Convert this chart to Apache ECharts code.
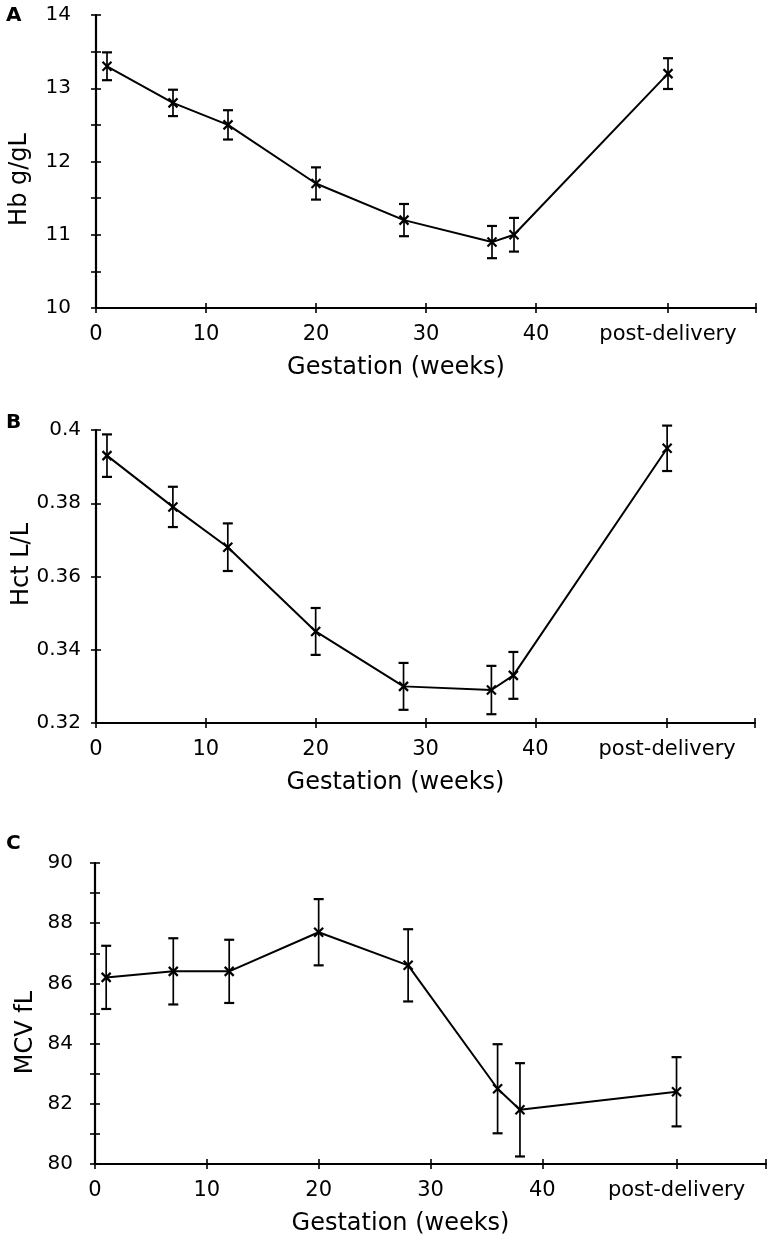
<!DOCTYPE html>
<html>
<head>
<meta charset="utf-8">
<script src="https://cdn.jsdelivr.net/npm/echarts@6/dist/echarts.min.js"></script>
<style>
html,body{margin:0;padding:0;background:#fff;}
#chart{width:771px;height:1251px;}
</style>
</head>
<body>
<div id="chart"></div>
<script>
// ---- data ----
const weeks = [1, 7, 12, 20, 28, 36, 38, 52];
const postDeliveryWeek = 52;
const xTickValues = [0, 10, 20, 30, 40, 52, 60];
const xLabelValues = [0, 10, 20, 30, 40, 52];
const postLabel = 'post-delivery';
const xName = 'Gestation (weeks)';

const hbMean = [13.3, 12.8, 12.5, 11.7, 11.2, 10.9, 11.0, 13.2];
const hbErr  = [0.19, 0.18, 0.2, 0.22, 0.22, 0.22, 0.23, 0.21];
const hctMean = [0.393, 0.379, 0.368, 0.345, 0.330, 0.329, 0.333, 0.395];
const hctErr  = [0.0058, 0.0055, 0.0065, 0.0064, 0.0064, 0.0066, 0.0064, 0.0062];
const mcvMean = [86.2, 86.4, 86.4, 87.7, 86.6, 82.5, 81.8, 82.4];
const mcvErr  = [1.05, 1.1, 1.05, 1.1, 1.2, 1.48, 1.55, 1.15];

const panelLetters = ['A', 'B', 'C'];
const yNames = ['Hb g/gL', 'Hct L/L', 'MCV fL'];

// ---- layout / style ----
const FONT = 'DejaVu Sans';
const INK = '#000';
const panels = [
  {top: 15,  height: 293, left: 96, right: 15, yMin: 10, yMax: 14, yInt: 0.5,
   mean: hbMean, err: hbErr, yLabelMargin: 25, yNameGap: 64, yNamePad: [0, 36, 0, 0],
   labelFmt: v => Number.isInteger(Math.round(v * 1000) / 1000) ? String(Math.round(v)) : '',
   letterTop: 6},
  {top: 430, height: 293, left: 96, right: 16, yMin: 0.32, yMax: 0.4, yInt: 0.02,
   mean: hctMean, err: hctErr, yLabelMargin: 15, yNameGap: 62, yNamePad: [0, 0, 0, 24],
   labelFmt: v => String(Math.round(v * 100) / 100),
   letterTop: 413},
  {top: 863, height: 301, left: 95, right: 5, yMin: 80, yMax: 90, yInt: 1,
   mean: mcvMean, err: mcvErr, yLabelMargin: 22, yNameGap: 57, yNamePad: [0, 38, 0, 0],
   labelFmt: v => (Math.round(v) % 2 === 0 ? String(Math.round(v)) : ''),
   letterTop: 834}
];

const grid = [], xAxis = [], yAxis = [], series = [], title = [];

panels.forEach((p, i) => {
  grid.push({left: p.left, right: p.right, top: p.top, height: p.height,
             outerBoundsMode: 'none', containLabel: false});
  title.push({text: panelLetters[i], left: 6, top: p.letterTop, padding: 0,
              textStyle: {fontFamily: FONT, fontSize: 20, fontWeight: 'bold', color: INK}});
  const xBase = {type: 'value', gridIndex: i, min: 0, max: 60, position: 'bottom',
                 splitLine: {show: false}};
  xAxis.push(Object.assign({}, xBase, {
    axisLine: {show: true, onZero: false, lineStyle: {color: INK, width: 2.2}},
    axisTick: {show: true, inside: false, length: 5, customValues: xTickValues,
               lineStyle: {color: INK, width: 1.6}},
    axisLabel: {show: true, margin: 16, customValues: xLabelValues,
                fontFamily: FONT, fontSize: 21, color: INK,
                formatter: v => (v === postDeliveryWeek ? postLabel : String(v))},
    name: xName, nameLocation: 'middle', nameGap: 48, nameMoveOverlap: false,
    nameTextStyle: {fontFamily: FONT, fontSize: 24, color: INK, padding: [0, 60, 0, 0]}
  }));
  xAxis.push(Object.assign({}, xBase, {
    axisLine: {show: false, onZero: false},
    axisTick: {show: true, inside: true, length: 5, customValues: xTickValues,
               lineStyle: {color: INK, width: 1.6}},
    axisLabel: {show: false}
  }));
  const yBase = {type: 'value', gridIndex: i, min: p.yMin, max: p.yMax, interval: p.yInt,
                 position: 'left', splitLine: {show: false}};
  yAxis.push(Object.assign({}, yBase, {
    axisLine: {show: true, onZero: false, lineStyle: {color: INK, width: 2.2}},
    axisTick: {show: true, inside: false, length: 5, lineStyle: {color: INK, width: 1.6}},
    axisLabel: {show: true, margin: p.yLabelMargin, fontFamily: FONT, fontSize: 20,
                color: INK, formatter: p.labelFmt},
    name: yNames[i], nameLocation: 'middle', nameGap: p.yNameGap, nameMoveOverlap: false,
    nameTextStyle: {fontFamily: FONT, fontSize: 24, color: INK, padding: p.yNamePad}
  }));
  yAxis.push(Object.assign({}, yBase, {
    axisLine: {show: false, onZero: false},
    axisTick: {show: true, inside: true, length: 5, lineStyle: {color: INK, width: 1.6}},
    axisLabel: {show: false}
  }));

  series.push({
    type: 'line', xAxisIndex: 2 * i, yAxisIndex: 2 * i, symbol: 'none',
    lineStyle: {color: INK, width: 2}, silent: true, animation: false,
    data: weeks.map((w, j) => [w, p.mean[j]])
  });
  series.push({
    type: 'custom', xAxisIndex: 2 * i, yAxisIndex: 2 * i, silent: true, animation: false,
    data: weeks.map((w, j) => [w, p.mean[j], p.err[j]]),
    renderItem: function (params, api) {
      const x = api.value(0), m = api.value(1), e = api.value(2);
      const c = api.coord([x, m]);
      const t = api.coord([x, m + e]);
      const b = api.coord([x, m - e]);
      const cw = 5, s = 4.5;
      const thin = {stroke: INK, lineWidth: 1.7};
      const thick = {stroke: INK, lineWidth: 2.2};
      return {type: 'group', children: [
        {type: 'line', shape: {x1: t[0], y1: t[1], x2: b[0], y2: b[1]}, style: thin},
        {type: 'line', shape: {x1: t[0] - cw, y1: t[1], x2: t[0] + cw, y2: t[1]}, style: thick},
        {type: 'line', shape: {x1: b[0] - cw, y1: b[1], x2: b[0] + cw, y2: b[1]}, style: thick},
        {type: 'line', shape: {x1: c[0] - s, y1: c[1] - s, x2: c[0] + s, y2: c[1] + s}, style: thick},
        {type: 'line', shape: {x1: c[0] - s, y1: c[1] + s, x2: c[0] + s, y2: c[1] - s}, style: thick}
      ]};
    }
  });
});

const chart = echarts.init(document.getElementById('chart'), null, {renderer: 'canvas'});
chart.setOption({
  backgroundColor: '#fff',
  animation: false,
  title: title,
  grid: grid,
  xAxis: xAxis,
  yAxis: yAxis,
  series: series
});
</script>
</body>
</html>
